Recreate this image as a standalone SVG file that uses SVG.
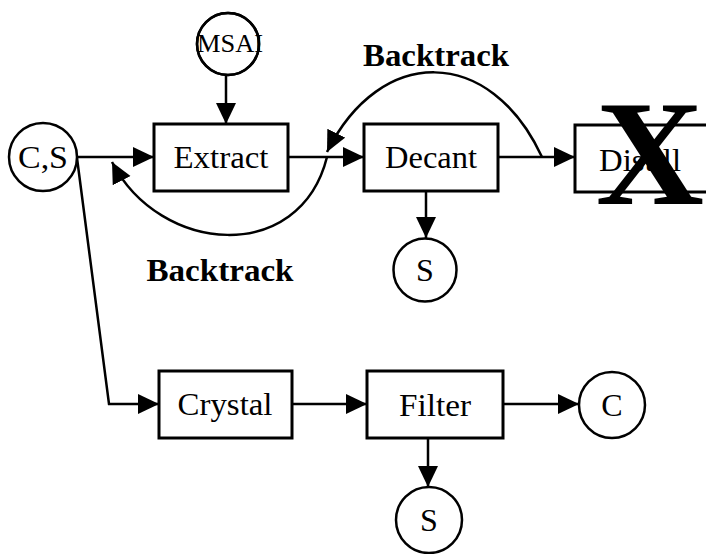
<svg xmlns="http://www.w3.org/2000/svg" width="706" height="554" viewBox="0 0 706 554">
  <style>
    .box { fill: #fff; stroke: #000; stroke-width: 3; }
    .node { fill: #fff; stroke: #000; stroke-width: 2.5; }
    .lbl { font-family: "Liberation Serif", "Times New Roman", serif; font-size: 32px; fill: #000; text-anchor: middle; }
    .small { font-size: 26px; }
    .bold { font-weight: bold; }
    .edge { fill: none; stroke: #000; stroke-width: 2.5; }
  </style>
  <defs>
    <marker id="arrow" markerUnits="userSpaceOnUse" markerWidth="22" markerHeight="22" refX="21" refY="10" orient="auto">
      <path d="M0,0 L21,10 L0,20 Z" fill="#000"/>
    </marker>
  </defs>
  <rect width="706" height="554" fill="#fff"/>

  <!-- connectors -->
  <g id="connectors">
    <line class="edge" x1="77" y1="157" x2="154" y2="157" marker-end="url(#arrow)"/>
    <line class="edge" x1="226" y1="75" x2="226" y2="124" marker-end="url(#arrow)"/>
    <line class="edge" x1="288" y1="157" x2="364" y2="157" marker-end="url(#arrow)"/>
    <line class="edge" x1="498" y1="157" x2="575" y2="157" marker-end="url(#arrow)"/>
    <line class="edge" x1="426" y1="191" x2="426" y2="238" marker-end="url(#arrow)"/>
    <polyline class="edge" points="77,158 109,404 159,404" marker-end="url(#arrow)"/>
    <line class="edge" x1="292" y1="404" x2="367" y2="404" marker-end="url(#arrow)"/>
    <line class="edge" x1="503" y1="404" x2="579" y2="404" marker-end="url(#arrow)"/>
    <line class="edge" x1="428" y1="438" x2="428" y2="487" marker-end="url(#arrow)"/>
    <!-- backtrack loops -->
    <path class="edge" d="M542,157 C490,45 380,45 327,152" marker-end="url(#arrow)"/>
    <path class="edge" d="M327,157 C300,265 160,255 112,162" marker-end="url(#arrow)"/>
  </g>

  <g id="cs">
    <circle class="node" cx="43" cy="157" r="34"/>
    <text class="lbl" x="43" y="168" textLength="50" lengthAdjust="spacingAndGlyphs">C,S</text>
  </g>
  <g id="msai">
    <circle class="node" cx="228" cy="44" r="31"/>
    <text class="lbl small" x="230" y="52" textLength="66" lengthAdjust="spacingAndGlyphs">MSAI</text>
    <circle cx="228" cy="44" r="31" fill="none" stroke="#000" stroke-width="2.5"/>
  </g>
  <g id="extract">
    <rect class="box" x="154" y="124" width="134" height="67"/>
    <text class="lbl" x="221" y="168" textLength="95" lengthAdjust="spacingAndGlyphs">Extract</text>
  </g>
  <g id="decant">
    <rect class="box" x="364" y="124" width="134" height="67"/>
    <text class="lbl" x="431" y="168" textLength="92" lengthAdjust="spacingAndGlyphs">Decant</text>
  </g>
  <g id="distill">
    <rect class="box" x="575" y="125" width="134" height="67"/>
    <text class="lbl" x="640" y="171" textLength="82" lengthAdjust="spacingAndGlyphs">Distill</text>
    <text class="lbl bold" x="650" y="204" font-size="150" style="font-size:150px">X</text>
  </g>
  <g id="s-decant">
    <circle class="node" cx="425" cy="270" r="31.5"/>
    <text class="lbl" x="425" y="281">S</text>
  </g>
  <g id="crystal">
    <rect class="box" x="159" y="371" width="133" height="67"/>
    <text class="lbl" x="225" y="415" textLength="95" lengthAdjust="spacingAndGlyphs">Crystal</text>
  </g>
  <g id="filter">
    <rect class="box" x="367" y="371" width="136" height="67"/>
    <text class="lbl" x="435" y="416" textLength="72" lengthAdjust="spacingAndGlyphs">Filter</text>
  </g>
  <g id="c">
    <circle class="node" cx="612" cy="405" r="33"/>
    <text class="lbl" x="612" y="416">C</text>
  </g>
  <g id="s-filter">
    <circle class="node" cx="429" cy="520" r="33"/>
    <text class="lbl" x="429" y="531">S</text>
  </g>

  <text class="lbl bold" x="436" y="66" textLength="146" lengthAdjust="spacingAndGlyphs">Backtrack</text>
  <text class="lbl bold" x="220" y="281" textLength="147" lengthAdjust="spacingAndGlyphs">Backtrack</text>
</svg>
